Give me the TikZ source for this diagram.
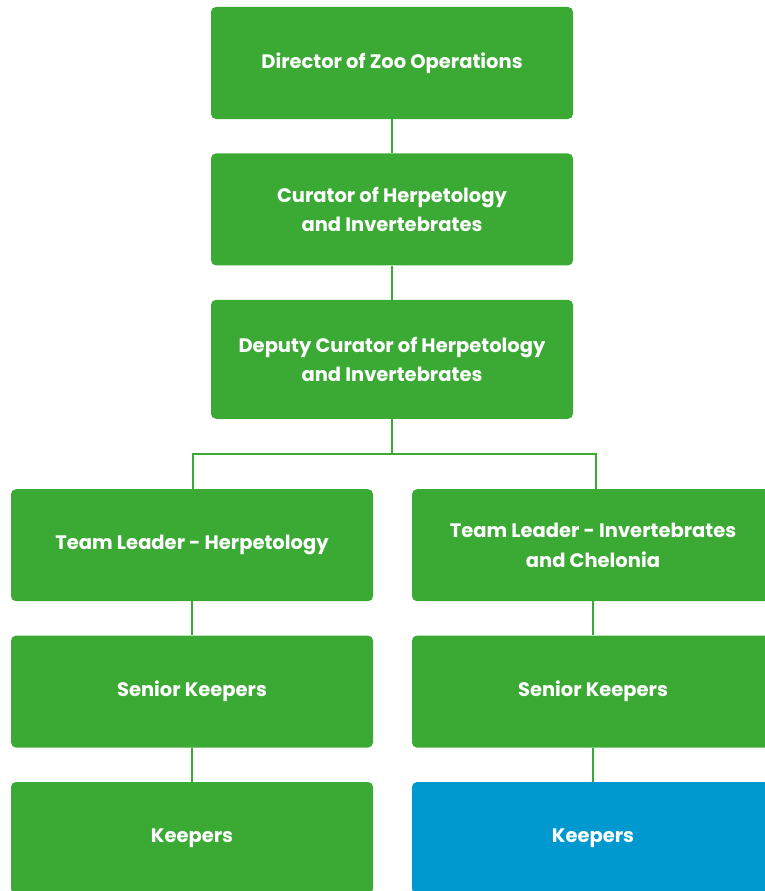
\documentclass[tikz,border=0pt]{standalone}
\usepackage{fontspec}
\setmainfont{Poppins}
\usetikzlibrary{positioning}
\definecolor{zoogreen}{HTML}{3BAA35}
\definecolor{zooblue}{HTML}{0099CF}

\begin{document}
\begin{tikzpicture}[
        node distance= 34pt and 39pt,
        box/.style={fill=zoogreen, rounded corners=5pt, text=white, align=center,
            minimum width=362pt, minimum height=112pt, font=\fontsize{19.5}{29.5}\selectfont\bfseries},
        link/.style={draw=zoogreen, line width=2pt}
    ]
        \useasboundingbox (0,0) rectangle (765pt,-891pt);
        \node[box] (n0) at (392pt,-63pt) {Director of Zoo Operations};
        \node[box, below = of n0] (n1) {Curator of Herpetology\\and Invertebrates};
        \node[box, below = of n1, minimum height=119pt] (n2) {Deputy Curator of Herpetology\\and Invertebrates};
        \node[box, below = 70pt of n2, xshift=-200pt] (n3) {Team Leader - Herpetology};
        \node[box, below = 70pt of n2, xshift=201pt] (n4) {Team Leader - Invertebrates\\and Chelonia};
        \node[box, below = of n3] (n5) {Senior Keepers};
        \node[box, below = of n4] (n6) {Senior Keepers};
        \node[box, below = of n5] (n7) {Keepers};
        \node[box, below = of n6, fill=zooblue] (n8) {Keepers};

        \coordinate[below = 35pt of n2] (split);
        \draw[link] (n0) -- (n1);
        \draw[link] (n1) -- (n2);
        \draw[link] (n2) -- (split);
        \draw[link] (split) -| ([xshift=1pt]n3.north);
        \draw[link] (split) -| ([xshift=3pt]n4.north);
        \draw[link] (n3) -- (n5);
        \draw[link] (n4) -- (n6);
        \draw[link] (n5) -- (n7);
        \draw[link] (n6) -- (n8);
    \end{tikzpicture}
\end{document}
